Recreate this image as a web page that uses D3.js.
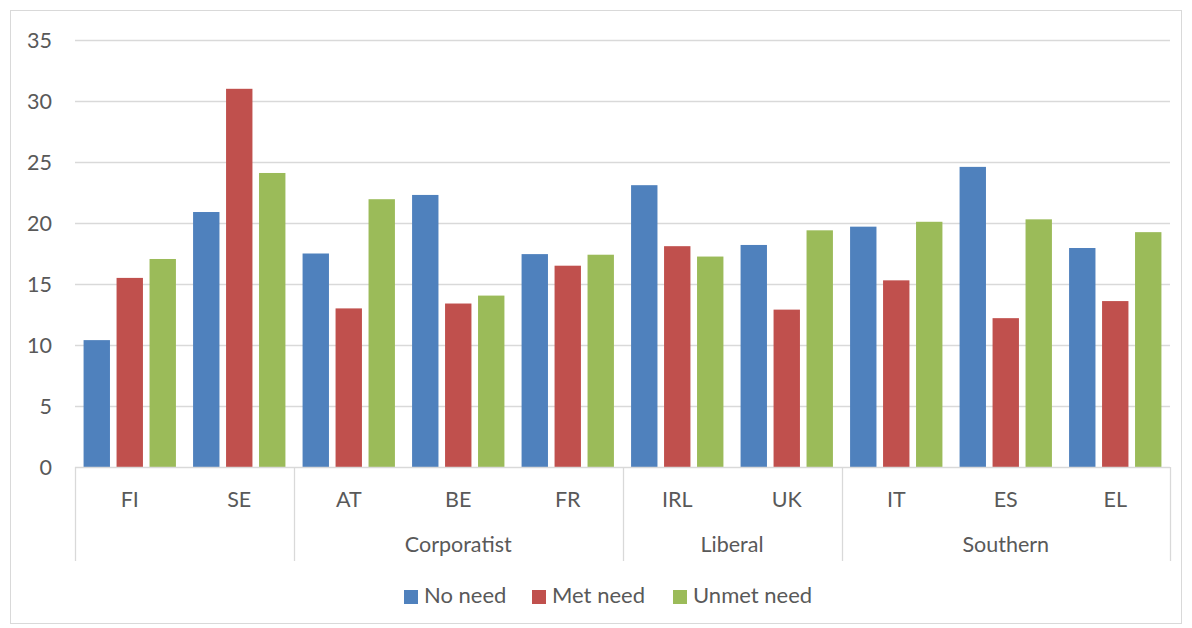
<!DOCTYPE html>
<html><head><meta charset="utf-8">
<script src="https://cdn.jsdelivr.net/npm/d3@7"></script>
<style>body{margin:0;background:#fff;} text{font-family:Lato,"Open Sans",sans-serif;fill:#595959;}</style>
</head><body>
<svg id="c" width="1192" height="628"></svg>
<script>
const countries = ["FI","SE","AT","BE","FR","IRL","UK","IT","ES","EL"];
const groups = [
  {name:"", members:["FI","SE"]},
  {name:"Corporatist", members:["AT","BE","FR"]},
  {name:"Liberal", members:["IRL","UK"]},
  {name:"Southern", members:["IT","ES","EL"]}
];
const seriesNames = ["No need","Met need","Unmet need"];
const seriesColors = ["#4f81bd","#c0504d","#9bbb59"];
const noNeed   = [10.4, 20.9, 17.5, 22.3, 17.45, 23.1, 18.2, 19.7, 24.6, 17.95];
const metNeed  = [15.5, 31.0, 13.0, 13.4, 16.5, 18.1, 12.9, 15.3, 12.2, 13.6];
const unmetNeed= [17.05, 24.1, 21.95, 14.05, 17.4, 17.25, 19.4, 20.1, 20.3, 19.25];
const yTicks = [0,5,10,15,20,25,30,35];
const seriesVals = [noNeed, metNeed, unmetNeed];
const FS = 21.5, LFS = 22;

const svg = d3.select("#c");
svg.append("rect").attr("x",10.5).attr("y",10.5).attr("width",1171).attr("height",613)
  .attr("fill","#fff").attr("stroke","#d9d9d9").attr("stroke-width",1);

const L=75, R=1170, T=40, B=467;
const x = d3.scaleBand().domain(countries).range([L,R]).paddingInner(0).paddingOuter(0);
const y = d3.scaleLinear().domain([0,35]).range([B,T]);
const xs = d3.scaleBand().domain(seriesNames).range([0,x.bandwidth()]).paddingInner(0.2).paddingOuter(0.26);

// gridlines
svg.append("g").selectAll("line").data(yTicks.filter(d=>d>0)).join("line")
  .attr("x1",L).attr("x2",R).attr("y1",d=>Math.round(y(d))+0.5).attr("y2",d=>Math.round(y(d))+0.5)
  .attr("stroke","#d9d9d9").attr("stroke-width",1.3);

// y axis labels
const yAxis = d3.axisLeft(y).tickValues(yTicks).tickSize(0).tickPadding(0);
const ga = svg.append("g").attr("transform",`translate(${L-23},0)`).call(yAxis);
ga.select(".domain").remove();
ga.selectAll("text").attr("font-size",FS).attr("fill","#595959").attr("font-family","Lato,'Open Sans',sans-serif").attr("dy","0.36em");

// bars
seriesVals.forEach((vals,si)=>{
  svg.append("g").selectAll("rect").data(countries).join("rect")
    .attr("x",(c)=>x(c)+xs(seriesNames[si]))
    .attr("width",xs.bandwidth())
    .attr("y",(c,i)=>y(vals[i]))
    .attr("height",(c,i)=>B-y(vals[i]))
    .attr("fill",seriesColors[si]);
});

// baseline
svg.append("line").attr("x1",L).attr("x2",R).attr("y1",B+0.5).attr("y2",B+0.5).attr("stroke","#d9d9d9").attr("stroke-width",1.3);

// category labels
svg.append("g").selectAll("text").data(countries).join("text")
  .attr("x",c=>x(c)+x.bandwidth()/2).attr("y",507).attr("text-anchor","middle").attr("font-size",FS).text(c=>c);

// group separators and labels
const bounds = [];
groups.forEach(g=>{
  const x0 = x(g.members[0]), x1 = x(g.members[g.members.length-1])+x.bandwidth();
  bounds.push(x0); bounds.push(x1);
  svg.append("text").attr("x",(x0+x1)/2).attr("y",552).attr("text-anchor","middle").attr("font-size",FS).text(g.name);
});
svg.append("g").selectAll("line").data(Array.from(new Set(bounds))).join("line")
  .attr("x1",d=>Math.round(d)+0.5).attr("x2",d=>Math.round(d)+0.5).attr("y1",B).attr("y2",561)
  .attr("stroke","#d9d9d9").attr("stroke-width",1.3);

// legend
const legX = [404, 532, 673];
const lg = svg.append("g");
seriesNames.forEach((n,i)=>{
  lg.append("rect").attr("x",legX[i]).attr("y",590).attr("width",14).attr("height",14).attr("fill",seriesColors[i]);
  lg.append("text").attr("x",legX[i]+20).attr("y",603).attr("font-size",LFS).text(n);
});
</script>
</body></html>
